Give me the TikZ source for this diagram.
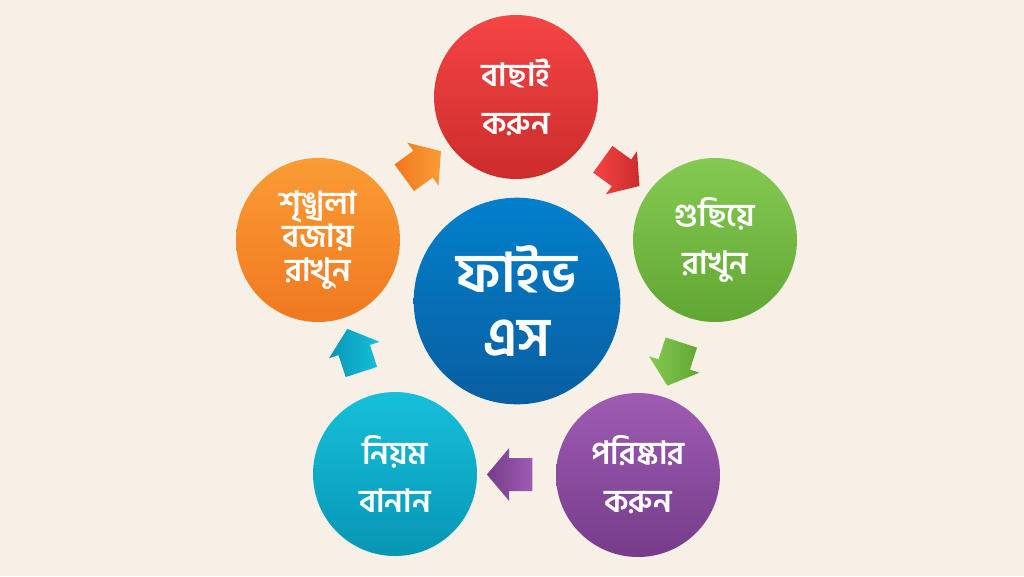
\documentclass[tikz,border=0pt]{standalone}
\usepackage{fontspec}
\newfontfamily\bnfont[Script=Bengali]{Hind Siliguri}
\usetikzlibrary{shapes.arrows,calc}

\definecolor{bgcream}{RGB}{247,240,230}
\definecolor{redtop}{RGB}{245,68,68}
\definecolor{redbot}{RGB}{204,44,44}
\definecolor{greentop}{RGB}{132,202,82}
\definecolor{greenbot}{RGB}{96,166,50}
\definecolor{purpletop}{RGB}{158,92,178}
\definecolor{purplebot}{RGB}{118,60,138}
\definecolor{cyantop}{RGB}{22,192,218}
\definecolor{cyanbot}{RGB}{6,150,180}
\definecolor{orangetop}{RGB}{251,156,52}
\definecolor{orangebot}{RGB}{240,120,32}
\definecolor{bluetop}{RGB}{2,128,204}
\definecolor{bluebot}{RGB}{8,94,160}

\tikzset{every picture/.style={line width=0.75pt}}
\tikzset{
  petal/.style={circle, minimum size=123pt, inner sep=0pt, text=white, align=center,
    font=\bnfont\bfseries\fontsize{24}{36}\selectfont},
  hub/.style={circle, minimum size=155pt, inner sep=0pt, text=white, align=center,
    font=\bnfont\bfseries\fontsize{41}{48}\selectfont},
  flow/.style={single arrow, minimum height=34pt, inner xsep=0pt, inner ysep=12pt,
    single arrow head extend=7.5pt, single arrow tip angle=100}
}

\begin{document}
\begin{tikzpicture}[x=0.75pt,y=0.75pt,yscale=-1,xscale=1]
%Background
\fill [bgcream] (0,0) rectangle (1024,576);
\useasboundingbox (0,0) rectangle (1024,576);

% Center Node
\node [hub, top color=bluetop, bottom color=bluebot] (five) at (517,301) {ফাইভ\\এস};

% Step Nodes
\node [petal, top color=redtop, bottom color=redbot] (sort) at (516,97) {বাছাই\\করুন};
\node [petal, top color=greentop, bottom color=greenbot] (order) at (715,240) {গুছিয়ে\\রাখুন};
\node [petal, top color=purpletop, bottom color=purplebot] (shine) at (638,475) {পরিষ্কার\\করুন};
\node [petal, top color=cyantop, bottom color=cyanbot] (standard) at (395,474) {নিয়ম\\বানান};
\node [petal, top color=orangetop, bottom color=orangebot,
  font=\bnfont\bfseries\fontsize{24}{25}\selectfont] (sustain) at (318,240) {শৃঙ্খলা\\বজায়\\রাখুন};

% Block Arrows
\node [flow, rotate=36, left color=orangebot, right color=orangetop] (a1) at ($(sustain)!0.5!(sort)$) {};
\node [flow, rotate=-36, left color=redtop, right color=redbot] (a2) at ($(sort)!0.5!(order)$) {};
\node [flow, rotate=252, left color=greentop, right color=greenbot] (a3) at ($(order)!0.5!(shine)$) {};
\node [flow, rotate=180, left color=purplebot, right color=purpletop] (a4) at ($(shine)!0.5!(standard)$) {};
\node [flow, rotate=108, left color=cyanbot, right color=cyantop] (a5) at ($(standard)!0.5!(sustain)$) {};

\end{tikzpicture}
\end{document}
